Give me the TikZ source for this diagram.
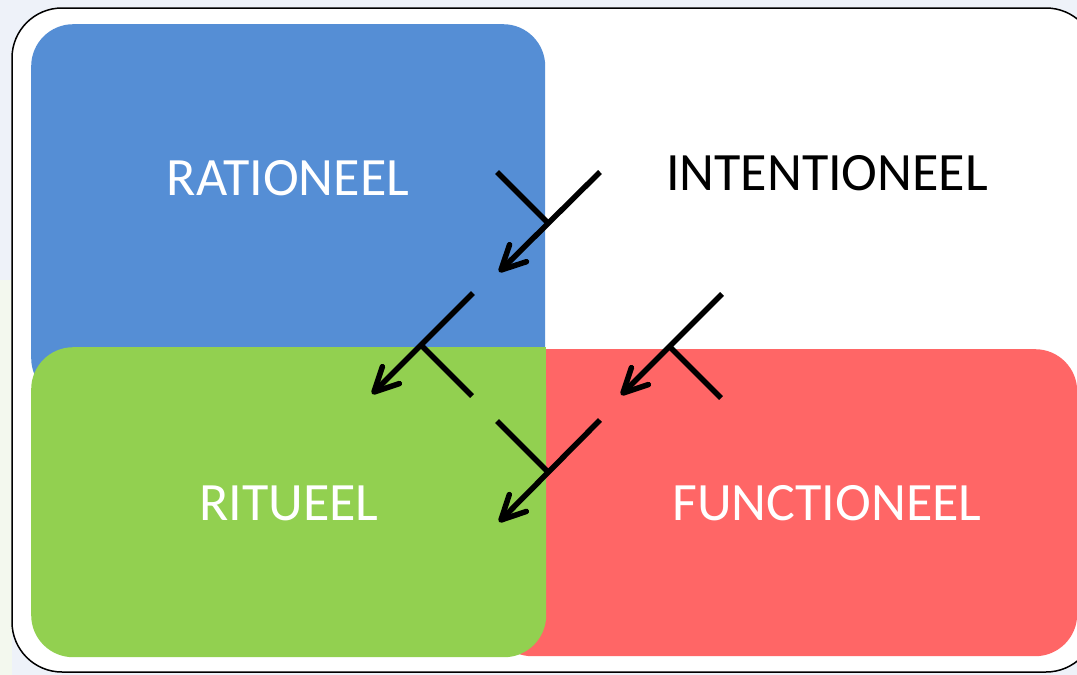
\documentclass[tikz,border=0pt]{standalone}
\usepackage{fontspec}
\setmainfont{Carlito}
\usetikzlibrary{arrows.meta}
\definecolor{bgtop}{HTML}{EEF2F9}
\definecolor{bgleft}{HTML}{F3F8EE}
\definecolor{boxblue}{HTML}{558ED5}
\definecolor{boxgreen}{HTML}{92D050}
\definecolor{boxred}{HTML}{FF6666}
\tikzset{
  box/.style={draw=none, rectangle, rounded corners=42pt, anchor=north west, inner sep=0pt},
  lbl/.style={font=\fontsize{54}{60}\selectfont, inner sep=0pt},
  flow/.style={line width=5.5pt, -{Straight Barb[length=24pt,width=24pt,round]}},
  tick/.style={line width=5.5pt}
}
\begin{document}
\begin{tikzpicture}[x=1pt,y=-1pt]
\useasboundingbox (0,0) rectangle (1077,675);
\clip (0,0) rectangle (1077,675);
\fill[bgtop] (0,0) rectangle (1077,675);
\fill[bgleft] (0,280) rectangle (12,675);
\draw[fill=white, line width=1.5pt, rounded corners=50pt] (12,8) rectangle (1096,672);
% boxes
\node[box, fill=boxblue, minimum width=514pt, minimum height=376pt] (blue) at (31,24) {};
\node[box, fill=boxred, minimum width=587pt, minimum height=307pt] (red) at (490,349) {};
\node[box, fill=boxgreen, minimum width=515pt, minimum height=310pt] (green) at (31,347) {};
\fill[boxgreen] (green.north east) rectangle ([xshift=-45pt,yshift=-45pt]green.north east);
% labels
\node[lbl, text=white] (rat) at (288,178) {RATIONEEL};
\node[lbl, text=black] (int) at (827,173) {INTENTIONEEL};
\node[lbl, text=white] (rit) at (289,503) {RITUEEL};
\node[lbl, text=white] (fun) at (827,503) {FUNCTIONEEL};
% arrow 1
\coordinate (a1s) at (600,172);
\coordinate (a1e) at (499,272);
\coordinate (t1s) at (497,172);
\coordinate (t1e) at (548,223);
\draw[flow] (a1s) -- (a1e);
\draw[tick] (t1s) -- (t1e);
% arrow 2
\coordinate (a2s) at (473,293);
\coordinate (a2e) at (372,394);
\coordinate (t2s) at (472,396);
\coordinate (t2e) at (421,345);
\draw[flow] (a2s) -- (a2e);
\draw[tick] (t2s) -- (t2e);
% arrow 3
\coordinate (a3s) at (722,294);
\coordinate (a3e) at (621,395);
\coordinate (t3s) at (721,398);
\coordinate (t3e) at (670,347);
\draw[flow] (a3s) -- (a3e);
\draw[tick] (t3s) -- (t3e);
% arrow 4
\coordinate (a4s) at (600,420);
\coordinate (a4e) at (499,522);
\coordinate (t4s) at (497,421);
\coordinate (t4e) at (548,472);
\draw[flow] (a4s) -- (a4e);
\draw[tick] (t4s) -- (t4e);
\end{tikzpicture}
\end{document}
